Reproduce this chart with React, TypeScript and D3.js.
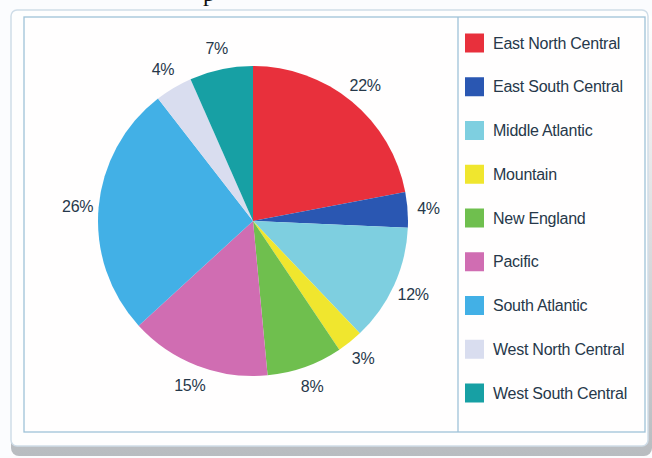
import React, { useEffect, useRef } from 'react';
import * as d3 from 'd3';

const regions = [
  'East North Central',
  'East South Central',
  'Middle Atlantic',
  'Mountain',
  'New England',
  'Pacific',
  'South Atlantic',
  'West North Central',
  'West South Central'
];
const shares = [22.0, 3.7, 12.2, 2.7, 7.9, 14.7, 26.3, 3.9, 6.6];
const colors = [
  '#e8303c',
  '#2a57b2',
  '#7ecfe0',
  '#f0e62e',
  '#6fbf4e',
  '#d06db2',
  '#42b0e6',
  '#d9ddef',
  '#17a0a4'
];

const W = 652;
const H = 458;

export default function App() {
  const svgRef = useRef<SVGSVGElement>(null);

  useEffect(() => {
    if (!svgRef.current) return;
    const svg = d3.select(svgRef.current);
    svg.selectAll('*').remove();

    const defs = svg.append('defs');
    const shade = defs.append('linearGradient')
      .attr('id', 'shade')
      .attr('x1', '0%').attr('x2', '0%')
      .attr('y1', '0%').attr('y2', '100%');
    shade.append('stop').attr('offset', '0%').attr('stop-color', '#ffffff');
    shade.append('stop').attr('offset', '100%').attr('stop-color', '#b8bcc0');

    svg.append('rect').attr('width', W).attr('height', H).attr('fill', '#fbfcfe');

    // title is cut off in the source, only the tail of a "p" shows
    svg.append('text')
      .attr('x', 203).attr('y', 1)
      .attr('font-family', 'Liberation Serif, serif')
      .attr('font-size', 24)
      .attr('fill', '#111')
      .text('p');

    // outer panel with shadow at the bottom
    svg.append('rect')
      .attr('x', 11).attr('y', 12).attr('width', 641).attr('height', 444)
      .attr('rx', 8)
      .attr('fill', 'url(#shade)');
    svg.append('rect')
      .attr('x', 11).attr('y', 10).attr('width', 637).attr('height', 436)
      .attr('rx', 6)
      .attr('fill', '#fefefe')
      .attr('stroke', '#cfdde8')
      .attr('stroke-width', 1.5);

    // inner plot box
    const box = { x: 24, y: 17, w: 621, h: 415 };
    svg.append('rect')
      .attr('x', box.x).attr('y', box.y).attr('width', box.w).attr('height', box.h)
      .attr('fill', '#fffefe')
      .attr('stroke', '#9fc2d8')
      .attr('stroke-width', 1.3);
    svg.append('line')
      .attr('x1', 458).attr('x2', 458)
      .attr('y1', box.y).attr('y2', box.y + box.h)
      .attr('stroke', '#9fc2d8')
      .attr('stroke-width', 1.3);

    // pie
    const cx = 253;
    const cy = 221;
    const r = 155;
    const total = d3.sum(shares);
    const pie = d3.pie<number>().sort(null).value(d => d);
    const arcs = pie(shares);
    const arc = d3.arc<d3.PieArcDatum<number>>().innerRadius(0).outerRadius(r);
    const labelArc = d3.arc<d3.PieArcDatum<number>>().innerRadius(r + 21).outerRadius(r + 21);

    const g = svg.append('g').attr('transform', `translate(${cx},${cy})`);
    g.selectAll('path')
      .data(arcs)
      .enter().append('path')
      .attr('d', arc)
      .attr('fill', (_, i) => colors[i]);

    g.selectAll('text')
      .data(arcs)
      .enter().append('text')
      .attr('transform', d => `translate(${labelArc.centroid(d)})`)
      .attr('text-anchor', 'middle')
      .attr('dy', '0.35em')
      .attr('font-family', 'Liberation Sans, Arial, sans-serif')
      .attr('font-size', 16)
      .attr('letter-spacing', -0.3)
      .attr('fill', '#26384a')
      .text(d => `${Math.round((d.value / total) * 100)}%`);

    // legend
    const legendY = d3.scalePoint<string>()
      .domain(regions)
      .range([43, 393]);
    const legend = svg.append('g');
    const items = legend.selectAll('g')
      .data(regions)
      .enter().append('g')
      .attr('transform', d => `translate(465,${legendY(d)})`);
    items.append('rect')
      .attr('x', 0).attr('y', -9.5)
      .attr('width', 19).attr('height', 19)
      .attr('fill', (_, i) => colors[i]);
    items.append('text')
      .attr('x', 28).attr('y', 0)
      .attr('dy', '0.35em')
      .attr('font-family', 'Liberation Sans, Arial, sans-serif')
      .attr('font-size', 16)
      .attr('letter-spacing', -0.25)
      .attr('fill', '#26384a')
      .text(d => d);
  }, []);

  return (
    <svg
      ref={svgRef}
      width={W}
      height={H}
      style={{ position: 'absolute', left: 0, top: 0 }}
    />
  );
}
